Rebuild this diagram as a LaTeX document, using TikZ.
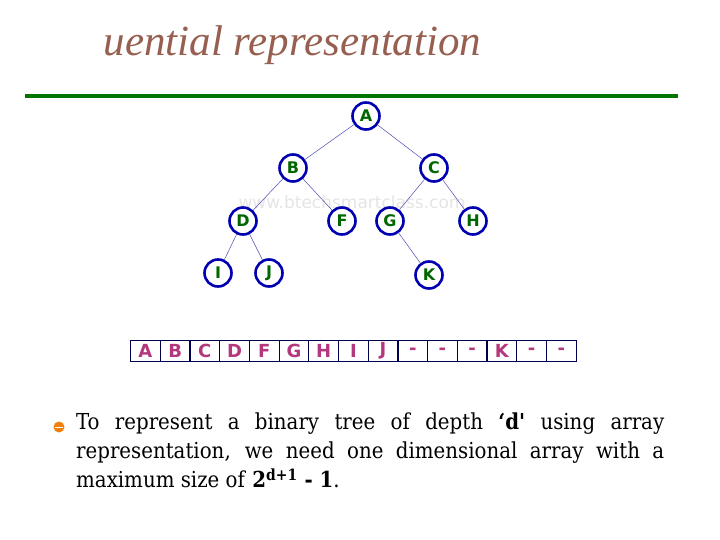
\documentclass[tikz,border=0pt]{standalone}
\usepackage{fontspec}
\setmainfont{Liberation Serif}
\newfontfamily\sansf{DejaVu Sans}
\newfontfamily\bodyf{DejaVu Serif Condensed}
\begin{document}
\begin{tikzpicture}[x=1pt,y=-1pt,
  tn/.style={circle,draw=blue!70!black,line width=2.6pt,minimum size=27pt,inner sep=0pt,font=\sansf\bfseries\fontsize{16}{16}\selectfont,text=green!40!black,fill=white},
  ed/.style={draw=blue!40!gray,line width=0.5pt},
  cell/.style={draw=blue!30!black,line width=1.2pt,minimum width=29.7pt,minimum height=21pt,inner sep=0pt,font=\sansf\bfseries\fontsize{18}{18}\selectfont,text=magenta!70!black,anchor=west}]
\useasboundingbox (0,0) rectangle (720,540);
\fill[white] (0,0) rectangle (720,540);
\node[anchor=west,font=\fontsize{43}{46}\selectfont\itshape,text={rgb,255:red,150;green,95;blue,80}] (title) at (100,45) {uential representation};
\draw[line width=4pt,green!45!black] (25,96) -- (678,96);
\node[font=\sansf\fontsize{17}{17}\selectfont,text=gray!20] (wm) at (352,202) {www.btechsmartclass.com};
\node[tn] (A) at (366,116) {A};
\node[tn] (B) at (293,168) {B};
\node[tn] (C) at (434,168) {C};
\node[tn] (D) at (243,221) {D};
\node[tn] (F) at (342,221) {F};
\node[tn] (G) at (390,221) {G};
\node[tn] (H) at (473,221) {H};
\node[tn] (I) at (218,273) {I};
\node[tn] (J) at (269,273) {J};
\node[tn] (K) at (429,275) {K};
\draw[ed] (A)--(B) (A)--(C) (B)--(D) (B)--(F) (C)--(G) (C)--(H) (D)--(I) (D)--(J) (G)--(K);
\foreach \t [count=\i from 0] in {A,B,C,D,F,G,H,I,J,-,-,-,K,-,-}
  \node[cell] (c\i) at (130+\i*29.7,351) {\t};
\fill[orange!80!brown] (59,427) circle (5.5pt);
\draw[white,line width=0.8pt] (55,427) -- (63,427);
\node[anchor=north west,text width=588pt,align=justify,font=\bodyf\fontsize{22}{29}\selectfont,inner sep=0pt] (txt) at (76,413)
{To represent a binary tree of depth \textbf{‘d'} using array\linebreak representation, we need one dimensional array with a\linebreak maximum size of \textbf{2\textsuperscript{d+1} - 1}.};
\end{tikzpicture}
\end{document}
